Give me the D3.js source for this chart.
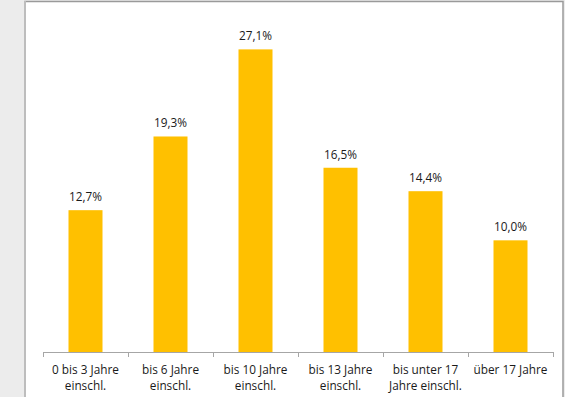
<!DOCTYPE html>
<meta charset="utf-8">
<head>
<style>
html, body {margin:0px; padding:0px; background:#ececec; overflow:hidden;}
text {font-family: "Open Sans", sans-serif; fill:#1a1a1a;}
</style>
</head>
<script src="https://d3js.org/d3.v7.min.js"></script>
<div id="my_dataviz"></div>
<script>

// categories (two lines each) and values in percent
var categories = ["0 bis 3 Jahre|einschl.", "bis 6 Jahre|einschl.", "bis 10 Jahre|einschl.",
                  "bis 13 Jahre|einschl.", "bis unter 17|Jahre einschl.", "über 17 Jahre"]
var values = [12.7, 19.3, 27.1, 16.5, 14.4, 10.0]
var labels = ["12,7%", "19,3%", "27,1%", "16,5%", "14,4%", "10,0%"]

var W = 565, H = 397

var svg = d3.select("#my_dataviz")
  .append("svg")
    .attr("width", W)
    .attr("height", H)

// white chart panel with border
svg.append("rect")
  .attr("x", 25).attr("y", 1.5)
  .attr("width", 538).attr("height", H + 10)
  .style("fill", "white")
  .style("stroke", "#9a9a9a")
  .style("stroke-width", 1.5)
svg.append("line")
  .attr("x1", 25).attr("x2", 25).attr("y1", 1).attr("y2", H)
  .style("stroke", "#bdbdbd").style("stroke-width", 2)

var x = d3.scaleBand()
  .domain(categories)
  .range([43, 553])

var y = d3.scaleLinear()
  .domain([0, 30])
  .range([352, 17])

// bars
svg.selectAll(".bar")
  .data(values)
  .enter()
  .append("rect")
    .attr("class", "bar")
    .attr("x", function(d, i) { return x(categories[i]) + x.bandwidth() * 0.3 })
    .attr("width", x.bandwidth() * 0.4)
    .attr("y", function(d) { return y(d) })
    .attr("height", function(d) { return y(0) - y(d) })
    .style("fill", "#ffc000")

// value labels
svg.selectAll(".lbl")
  .data(values)
  .enter()
  .append("text")
    .attr("class", "lbl")
    .attr("x", function(d, i) { return x(categories[i]) + x.bandwidth() / 2 })
    .attr("y", function(d) { return y(d) - 9 })
    .attr("text-anchor", "middle")
    .style("font-size", "11.8px")
    .text(function(d, i) { return labels[i] })

// axis line and ticks
var ticks = categories.map(function(c) { return x(c) }).concat([553])
svg.append("line")
  .attr("x1", 43).attr("x2", 553).attr("y1", 352.5).attr("y2", 352.5)
  .style("stroke", "#a6a6a6").style("stroke-width", 1)
svg.selectAll(".tick")
  .data(ticks)
  .enter()
  .append("line")
    .attr("x1", function(d) { return d + 0.5 }).attr("x2", function(d) { return d + 0.5 })
    .attr("y1", 352).attr("y2", 357)
    .style("stroke", "#a6a6a6")

// category labels
var cat = svg.selectAll(".cat")
  .data(categories)
  .enter()
  .append("text")
    .attr("class", "cat")
    .attr("text-anchor", "middle")
    .style("font-size", "11.8px")
cat.each(function(c) {
  var parts = c.split("|")
  var cx = x(c) + x.bandwidth() / 2
  var t = d3.select(this)
  parts.forEach(function(p, k) {
    t.append("tspan").attr("x", cx).attr("y", 374 + k * 16).text(p)
  })
})

</script>
</html>
